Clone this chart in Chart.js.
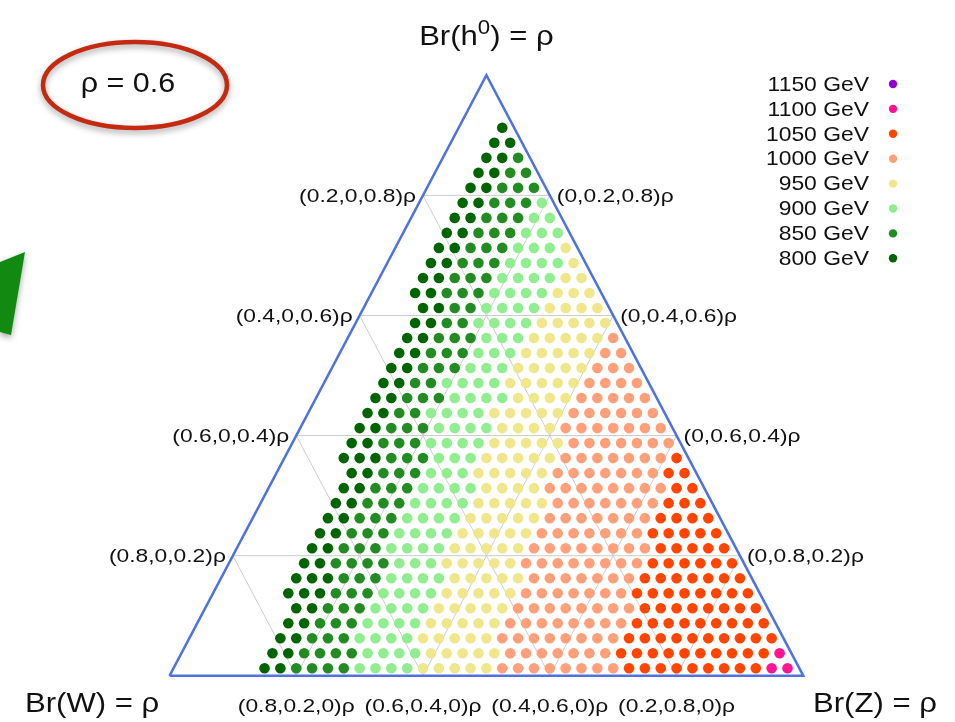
<!DOCTYPE html>
<html>
<head>
<meta charset="utf-8">
<script src="https://cdn.jsdelivr.net/npm/chart.js@4.4.0/dist/chart.umd.min.js"></script>
<style>
  html, body { margin: 0; padding: 0; background: #fff; }
  #wrap { position: relative; width: 955px; height: 722px; }
</style>
</head>
<body>
<div id="wrap"><canvas id="ternary" width="955" height="722"></canvas></div>
<script>
// ---- data ----
const STEPS = 40; // lattice steps per triangle side
const bandMasses = [800, 850, 900, 950, 1000, 1050, 1100, 1150];
const bandColors = ['#006400', '#228b22', '#90ee90', '#f0e68c', '#ffa07a', '#ff4500', '#ff1493', '#9400d3'];

// one entry per lattice row, apex first; counts of points read left -> right,
// band order as in bandMasses (800, 850, 900 ... GeV)
const rowBands = [
  [1],
  [2],
  [2, 1],
  [2, 2],
  [2, 3],
  [2, 3, 1],
  [2, 3, 2],
  [2, 3, 3],
  [2, 3, 3, 1],
  [2, 3, 4, 1],
  [2, 3, 4, 2],
  [2, 3, 4, 3],
  [2, 2, 4, 4],
  [2, 2, 4, 5],
  [2, 3, 3, 5, 1],
  [2, 3, 3, 5, 2],
  [2, 3, 3, 5, 3],
  [2, 2, 4, 5, 4],
  [2, 3, 4, 4, 5],
  [2, 2, 4, 5, 6],
  [2, 3, 4, 4, 7],
  [2, 3, 4, 5, 7],
  [3, 3, 3, 5, 7, 1],
  [2, 3, 3, 5, 7, 2],
  [2, 3, 4, 4, 8, 2],
  [2, 3, 4, 5, 7, 3],
  [2, 3, 4, 5, 7, 4],
  [2, 3, 4, 5, 7, 5],
  [2, 3, 4, 5, 8, 5],
  [2, 4, 3, 5, 8, 6],
  [3, 3, 4, 5, 7, 7],
  [3, 3, 4, 5, 7, 8],
  [2, 3, 4, 5, 8, 8],
  [2, 3, 4, 5, 8, 9],
  [2, 3, 4, 5, 8, 10],
  [2, 4, 4, 5, 7, 10, 1],
  [2, 4, 4, 5, 8, 9, 2]
];

const gridTicks = [0.2, 0.4, 0.6, 0.8];
const leftLabels = ['(0.2,0,0.8)ρ', '(0.4,0,0.6)ρ', '(0.6,0,0.4)ρ', '(0.8,0,0.2)ρ'];
const rightLabels = ['(0,0.2,0.8)ρ', '(0,0.4,0.6)ρ', '(0,0.6,0.4)ρ', '(0,0.8,0.2)ρ'];
const bottomLabels = ['(0.8,0.2,0)ρ', '(0.6,0.4,0)ρ', '(0.4,0.6,0)ρ', '(0.2,0.8,0)ρ'];
const rhoValue = 'ρ = 0.6';

// ---- ternary helpers ----
// (w, z, h) = (Br(W), Br(Z), Br(h0)) fractions -> cartesian in the scale units
function toXY(w, z, h) {
  return { x: z + h / 2, y: h };
}

// lattice is offset half a step up and 3/4 step in from the Z edge
const H_OFF = 0.5, W_OFF = 0.75;
function latticePoint(row, fromRight) {
  const h = (STEPS - 3 - H_OFF - row) / STEPS;
  const w = (fromRight + W_OFF) / STEPS;
  return toXY(w, 1 - w - h, h);
}

const bandPoints = bandMasses.map(() => []);
rowBands.forEach((counts, row) => {
  const total = counts.reduce((a, b) => a + b, 0);
  let fromRight = total - 1;
  counts.forEach((n, band) => {
    for (let k = 0; k < n; k++) {
      bandPoints[band].push(latticePoint(row, fromRight));
      fromRight--;
    }
  });
});

// ---- layout: where the triangle sits on the canvas ----
const W_PX = 955, H_PX = 722;
const TRI_LEFT = 166, TRI_RIGHT = 807, TRI_BASE = 680.5, TRI_APEX = 71;
const sx = TRI_RIGHT - TRI_LEFT, sy = TRI_BASE - TRI_APEX;

const datasets = [];

// triangle outline
datasets.push({
  data: [toXY(1, 0, 0), toXY(0, 1, 0), toXY(0, 0, 1), toXY(1, 0, 0)],
  showLine: true, borderColor: '#4f72dc', borderWidth: 2.5,
  pointRadius: 0, order: 1
});

// grid lines at the 0.2 ticks, parallel to each side
gridTicks.forEach(t => {
  const segs = [
    [toXY(1 - t, 0, t), toXY(0, 1 - t, t)],
    [toXY(t, 0, 1 - t), toXY(t, 1 - t, 0)],
    [toXY(0, t, 1 - t), toXY(1 - t, t, 0)]
  ];
  segs.forEach(seg => datasets.push({
    data: seg, showLine: true, borderColor: '#cdcdcd', borderWidth: 1,
    pointRadius: 0, order: 3
  }));
});

bandPoints.forEach((pts, b) => {
  datasets.push({
    label: bandMasses[b] + ' GeV',
    data: pts,
    backgroundColor: bandColors[b],
    borderColor: bandColors[b],
    borderWidth: 0,
    pointRadius: 5.3,
    showLine: false,
    order: 2
  });
});

// ---- text and decorations ----
const FONT = '"Liberation Sans", Arial, Helvetica, sans-serif';

function stretchText(ctx, text, x, y, align, size, stretch) {
  ctx.save();
  ctx.font = size + 'px ' + FONT;
  ctx.textBaseline = 'middle';
  ctx.textAlign = 'left';
  const w = ctx.measureText(text).width * stretch;
  const x0 = align === 'right' ? x - w : align === 'center' ? x - w / 2 : x;
  ctx.translate(x0, y);
  ctx.scale(stretch, 1);
  ctx.fillText(text, 0, 0);
  ctx.restore();
  return w;
}

const overlay = {
  id: 'overlay',
  beforeDatasetsDraw(chart) {
    const ctx = chart.ctx;
    // cut-off green arrow at the left border
    ctx.save();
    ctx.shadowColor = 'rgba(0,0,0,0.35)';
    ctx.shadowBlur = 6;
    ctx.shadowOffsetY = 3;
    ctx.fillStyle = '#128a12';
    ctx.beginPath();
    ctx.moveTo(0, 262);
    ctx.lineTo(25, 252);
    ctx.lineTo(11, 335);
    ctx.lineTo(0, 332);
    ctx.closePath();
    ctx.fill();
    ctx.restore();
  },
  afterDraw(chart) {
    const ctx = chart.ctx;
    const xs = chart.scales.x, ys = chart.scales.y;
    const px = p => ({ x: xs.getPixelForValue(p.x), y: ys.getPixelForValue(p.y) });
    ctx.fillStyle = '#111';

    gridTicks.forEach((t, i) => {
      const h = 1 - t;
      const L = px(toXY(1 - h, 0, h));
      stretchText(ctx, leftLabels[i], L.x - 7, L.y + 1, 'right', 19, 1.2);
      const R = px(toXY(0, 1 - h, h));
      stretchText(ctx, rightLabels[i], R.x + 7, R.y + 1, 'left', 19, 1.2);
      const B = px(toXY(1 - t, t, 0));
      stretchText(ctx, bottomLabels[i], B.x, 707, 'center', 19, 1.2);
    });

    // vertex labels
    const top = px(toXY(0, 0, 1));
    ctx.save();
    const big = 28, st = 1.11;
    ctx.font = big + 'px ' + FONT;
    const w1 = ctx.measureText('Br(h').width * st;
    const w3 = ctx.measureText(') = ρ').width * st;
    ctx.font = Math.round(big * 0.7) + 'px ' + FONT;
    const w2 = ctx.measureText('0').width * st;
    ctx.restore();
    let x0 = top.x - (w1 + w2 + w3) / 2;
    stretchText(ctx, 'Br(h', x0, 37, 'left', big, st);
    stretchText(ctx, '0', x0 + w1, 28, 'left', Math.round(big * 0.7), st);
    stretchText(ctx, ') = ρ', x0 + w1 + w2, 37, 'left', big, st);
    stretchText(ctx, 'Br(W) = ρ', 25, 704, 'left', big, st);
    stretchText(ctx, 'Br(Z) = ρ', 813, 704, 'left', big, st);

    // legend, top-right
    for (let k = 0; k < bandMasses.length; k++) {
      const b = bandMasses.length - 1 - k;
      const y = 84 + k * 24.9;
      ctx.fillStyle = '#111';
      stretchText(ctx, bandMasses[b] + ' GeV', 869, y + 1, 'right', 21, 1.09);
      ctx.fillStyle = bandColors[b];
      ctx.beginPath();
      ctx.arc(893, y, 4.2, 0, Math.PI * 2);
      ctx.fill();
    }

    // rho annotation in a red oval
    ctx.save();
    ctx.shadowColor = 'rgba(0,0,0,0.35)';
    ctx.shadowBlur = 6;
    ctx.shadowOffsetY = 3;
    ctx.strokeStyle = '#c42a10';
    ctx.lineWidth = 4.5;
    ctx.beginPath();
    ctx.ellipse(135, 85, 92, 43, 0, 0, Math.PI * 2);
    ctx.stroke();
    ctx.restore();
    ctx.fillStyle = '#111';
    stretchText(ctx, rhoValue, 128, 85, 'center', 27, 1.13);
  }
};

new Chart(document.getElementById('ternary'), {
  type: 'scatter',
  data: { datasets },
  options: {
    responsive: false,
    animation: false,
    devicePixelRatio: 1,
    layout: { padding: 0 },
    plugins: { legend: { display: false }, tooltip: { enabled: false } },
    scales: {
      x: { type: 'linear', display: false, min: -TRI_LEFT / sx, max: (W_PX - TRI_LEFT) / sx },
      y: { type: 'linear', display: false, min: -(H_PX - TRI_BASE) / sy, max: TRI_BASE / sy }
    }
  },
  plugins: [overlay]
});
</script>
</body>
</html>
